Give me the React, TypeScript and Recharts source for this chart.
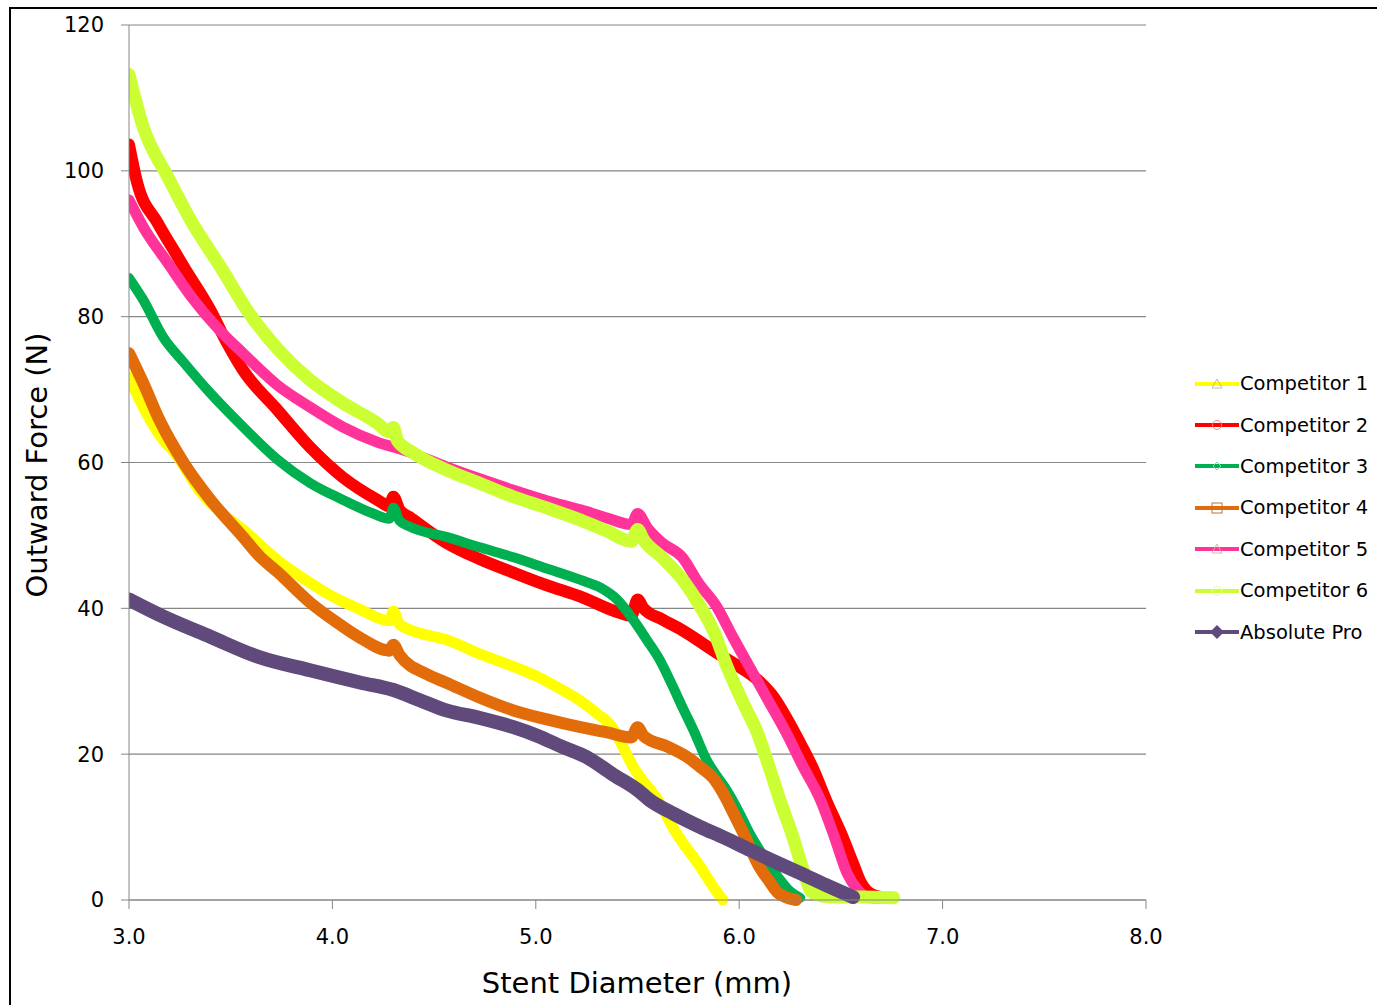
import React from 'react';
import { LineChart, Line, XAxis, YAxis, CartesianGrid } from 'recharts';

// Stent diameter (mm) and outward force (N), one pair of arrays per series
const comp1X = [3.0, 3.07, 3.15, 3.24, 3.35, 3.45, 3.56, 3.73, 3.89, 3.97, 4.14, 4.28, 4.3, 4.33, 4.47, 4.56, 4.72, 4.89, 5.01, 5.13, 5.22, 5.3, 5.38, 5.41, 5.48, 5.6, 5.69, 5.81, 5.88, 5.92];
const comp1Y = [71.7, 67.6, 63.8, 60.8, 56.0, 53.2, 50.8, 46.6, 43.5, 42.1, 39.8, 38.3, 39.6, 37.8, 36.3, 35.7, 33.8, 32.0, 30.6, 28.8, 27.3, 25.6, 23.5, 22.0, 18.2, 13.7, 9.2, 4.5, 1.5, 0.0];

const comp2X = [3.0, 3.04, 3.14, 3.24, 3.27, 3.4, 3.48, 3.56, 3.73, 3.89, 4.05, 4.22, 4.28, 4.3, 4.33, 4.38, 4.56, 4.72, 4.89, 5.05, 5.22, 5.41, 5.47, 5.5, 5.53, 5.62, 5.72, 5.89, 6.0, 6.09, 6.17, 6.23, 6.3, 6.36, 6.43, 6.5, 6.56, 6.6, 6.65, 6.72];
const comp2Y = [103.6, 98.4, 92.9, 88.2, 86.8, 80.9, 76.5, 72.7, 67.2, 62.1, 58.0, 54.9, 54.0, 55.3, 53.5, 52.5, 49.0, 46.8, 44.9, 43.2, 41.6, 39.4, 39.0, 41.2, 40.0, 38.5, 37.0, 33.9, 32.0, 30.2, 27.8, 25.1, 21.5, 18.2, 13.5, 9.2, 5.0, 2.3, 0.8, 0.3];

const comp3X = [3.0, 3.07, 3.17, 3.27, 3.4, 3.56, 3.73, 3.89, 4.05, 4.2, 4.28, 4.3, 4.33, 4.38, 4.56, 4.72, 4.89, 5.05, 5.22, 5.32, 5.4, 5.48, 5.55, 5.61, 5.67, 5.72, 5.78, 5.84, 5.89, 5.94, 6.0, 6.05, 6.12, 6.19, 6.25, 6.3];
const comp3Y = [85.3, 82.3, 77.1, 73.7, 69.5, 64.9, 60.4, 57.2, 54.9, 53.0, 52.3, 53.8, 52.0, 51.2, 49.8, 48.4, 47.0, 45.5, 43.9, 42.8, 41.2, 38.4, 35.5, 32.9, 29.5, 26.5, 23.0, 19.2, 17.0, 15.0, 12.0, 9.2, 6.0, 3.2, 1.2, 0.3];

const comp4X = [3.0, 3.07, 3.15, 3.27, 3.4, 3.56, 3.64, 3.73, 3.89, 4.02, 4.14, 4.28, 4.3, 4.33, 4.47, 4.56, 4.72, 4.89, 5.05, 5.22, 5.35, 5.47, 5.5, 5.53, 5.65, 5.75, 5.81, 5.87, 5.92, 5.97, 6.02, 6.06, 6.1, 6.15, 6.19, 6.28];
const comp4Y = [75.0, 70.9, 65.8, 59.9, 54.9, 49.8, 47.2, 45.0, 40.8, 38.1, 35.9, 34.2, 35.0, 33.6, 30.9, 29.8, 27.8, 26.0, 24.8, 23.7, 23.0, 22.3, 23.7, 22.5, 21.0, 19.5, 18.2, 16.8, 14.7, 12.0, 9.2, 6.8, 4.5, 2.5, 1.0, 0.0];

const comp5X = [3.0, 3.07, 3.19, 3.31, 3.45, 3.56, 3.73, 3.89, 4.05, 4.22, 4.35, 4.56, 4.72, 4.89, 5.05, 5.22, 5.35, 5.47, 5.5, 5.55, 5.62, 5.72, 5.8, 5.89, 5.97, 6.05, 6.14, 6.23, 6.31, 6.4, 6.47, 6.53, 6.58, 6.63, 6.7];
const comp5Y = [96.0, 92.3, 87.4, 82.6, 78.0, 75.0, 70.6, 67.6, 64.9, 62.8, 61.7, 59.4, 57.8, 56.2, 54.8, 53.5, 52.4, 51.5, 53.0, 51.0, 49.0, 47.0, 43.5, 40.2, 36.0, 32.0, 27.5, 23.0, 18.5, 13.7, 8.5, 3.7, 1.5, 0.4, 0.2];

const comp6X = [3.0, 3.07, 3.19, 3.31, 3.45, 3.59, 3.73, 3.89, 4.05, 4.22, 4.28, 4.3, 4.32, 4.4, 4.56, 4.72, 4.89, 5.05, 5.22, 5.35, 5.47, 5.5, 5.53, 5.62, 5.72, 5.81, 5.88, 5.94, 6.02, 6.09, 6.15, 6.2, 6.26, 6.31, 6.36, 6.45, 6.6, 6.76];
const comp6Y = [113.2, 106.0, 99.2, 92.9, 86.8, 80.5, 75.6, 71.3, 68.2, 65.4, 64.2, 64.8, 63.0, 61.3, 59.0, 57.2, 55.3, 53.8, 52.1, 50.6, 49.2, 50.8, 49.4, 47.0, 44.0, 40.2, 36.5, 32.0, 27.0, 22.9, 18.0, 13.7, 9.0, 4.5, 1.0, 0.4, 0.4, 0.3];

const absProX = [3.0, 3.15, 3.4, 3.64, 3.89, 4.14, 4.3, 4.43, 4.56, 4.72, 4.89, 5.01, 5.13, 5.25, 5.38, 5.5, 5.56, 5.68, 5.81, 5.93, 6.05, 6.18, 6.3, 6.43, 6.56];
const absProY = [41.2, 39.1, 36.1, 33.3, 31.5, 29.8, 28.8, 27.4, 26.0, 25.0, 23.7, 22.5, 21.0, 19.6, 17.2, 15.1, 13.7, 11.8, 10.0, 8.5, 6.9, 5.2, 3.7, 2.0, 0.4];

const xTicks = [3, 4, 5, 6, 7, 8];
const yTicks = [0, 20, 40, 60, 80, 100, 120];

const toPoints = (xs: number[], ys: number[]) => xs.map((x, i) => ({ x, y: ys[i] }));

const series = [
  { name: 'Competitor 1', color: '#FFFF00', marker: 'triangle', width: 11, data: toPoints(comp1X, comp1Y) },
  { name: 'Competitor 2', color: '#FF0000', marker: 'circle', width: 12, data: toPoints(comp2X, comp2Y) },
  { name: 'Competitor 3', color: '#00B050', marker: 'diamond', width: 10, data: toPoints(comp3X, comp3Y) },
  { name: 'Competitor 4', color: '#E36C0A', marker: 'square', width: 12, data: toPoints(comp4X, comp4Y) },
  { name: 'Competitor 5', color: '#FF3399', marker: 'triangle', width: 11, data: toPoints(comp5X, comp5Y) },
  { name: 'Competitor 6', color: '#CCFF33', marker: 'circle', width: 13, data: toPoints(comp6X, comp6Y) },
  { name: 'Absolute Pro', color: '#604A7B', marker: 'diamondFilled', width: 14, data: toPoints(absProX, absProY) },
];

const font = '"DejaVu Sans", sans-serif';

const LegendMarker = ({ kind, color }: { kind: string; color: string }) => {
  const cx = 22, cy = 8;
  let mark: React.ReactNode = null;
  if (kind === 'triangle') mark = <polygon points={`${cx - 5},${cy + 4} ${cx + 5},${cy + 4} ${cx},${cy - 5}`} fill="none" stroke="#c9b9a0" strokeWidth={1} />;
  if (kind === 'circle') mark = <circle cx={cx} cy={cy} r={4.5} fill="none" stroke={color === '#FF0000' ? '#ff8080' : '#e6ff99'} strokeWidth={1} />;
  if (kind === 'diamond') mark = <polygon points={`${cx},${cy - 4} ${cx + 4},${cy} ${cx},${cy + 4} ${cx - 4},${cy}`} fill="none" stroke="#80d8a8" strokeWidth={1} />;
  if (kind === 'square') mark = <rect x={cx - 5} y={cy - 5} width={10} height={10} fill="none" stroke="#b87040" strokeWidth={1} />;
  if (kind === 'diamondFilled') mark = <polygon points={`${cx},${cy - 7} ${cx + 7},${cy} ${cx},${cy + 7} ${cx - 7},${cy}`} fill={color} />;
  return (
    <svg width={44} height={16} style={{ display: 'block' }}>
      <line x1={0} y1={cy} x2={44} y2={cy} stroke={color} strokeWidth={4} />
      {mark}
    </svg>
  );
};

export default function App() {
  return (
    <div style={{ position: 'absolute', left: 0, top: 0, width: 1377, height: 1005, overflow: 'hidden', background: '#fff', fontFamily: font }}>
      <div style={{ position: 'absolute', left: 9, top: 7, width: 1368, height: 998, borderTop: '2px solid #000', borderLeft: '2px solid #000', boxSizing: 'border-box' }} />
      <div style={{ position: 'absolute', left: 0, top: 0 }}>
        <LineChart width={1377} height={1005} margin={{ top: 25, right: 231, bottom: 0, left: 0 }}>
          <CartesianGrid vertical={false} stroke="#868686" strokeWidth={1.2} />
          <XAxis
            type="number"
            dataKey="x"
            domain={[3, 8]}
            ticks={xTicks}
            tickFormatter={(v: number) => v.toFixed(1)}
            stroke="#868686"
            tickSize={9}
            tickMargin={20}
            tick={{ fill: '#000', fontSize: 21, fontFamily: font }}
            height={105}
            allowDataOverflow
          />
          <YAxis
            type="number"
            domain={[0, 120]}
            ticks={yTicks}
            stroke="#868686"
            tickSize={8}
            tickMargin={17}
            width={129}
            tick={{ fill: '#000', fontSize: 21, fontFamily: font }}
          />
          {series.map((s) => (
            <Line
              key={s.name}
              data={s.data}
              dataKey="y"
              name={s.name}
              type="monotone"
              stroke={s.color}
              strokeWidth={s.width}
              strokeLinejoin="round"
              strokeLinecap="round"
              dot={false}
              activeDot={false}
              isAnimationActive={false}
            />
          ))}
        </LineChart>
      </div>
      <div style={{ position: 'absolute', left: 37, top: 465, transform: 'translate(-50%, -50%) rotate(-90deg)', fontSize: 29, whiteSpace: 'nowrap', color: '#000' }}>
        Outward Force (N)
      </div>
      <div style={{ position: 'absolute', left: 637, top: 983, transform: 'translate(-50%, -50%)', fontSize: 29, whiteSpace: 'nowrap', color: '#000' }}>
        Stent Diameter (mm)
      </div>
      <div style={{ position: 'absolute', left: 1195, top: 363 }}>
        {series.map((s) => (
          <div key={s.name} style={{ display: 'flex', alignItems: 'center', height: 41.4 }}>
            <LegendMarker kind={s.marker} color={s.color} />
            <span style={{ fontSize: 19.5, marginLeft: 1, color: '#000', whiteSpace: 'nowrap' }}>{s.name}</span>
          </div>
        ))}
      </div>
    </div>
  );
}
